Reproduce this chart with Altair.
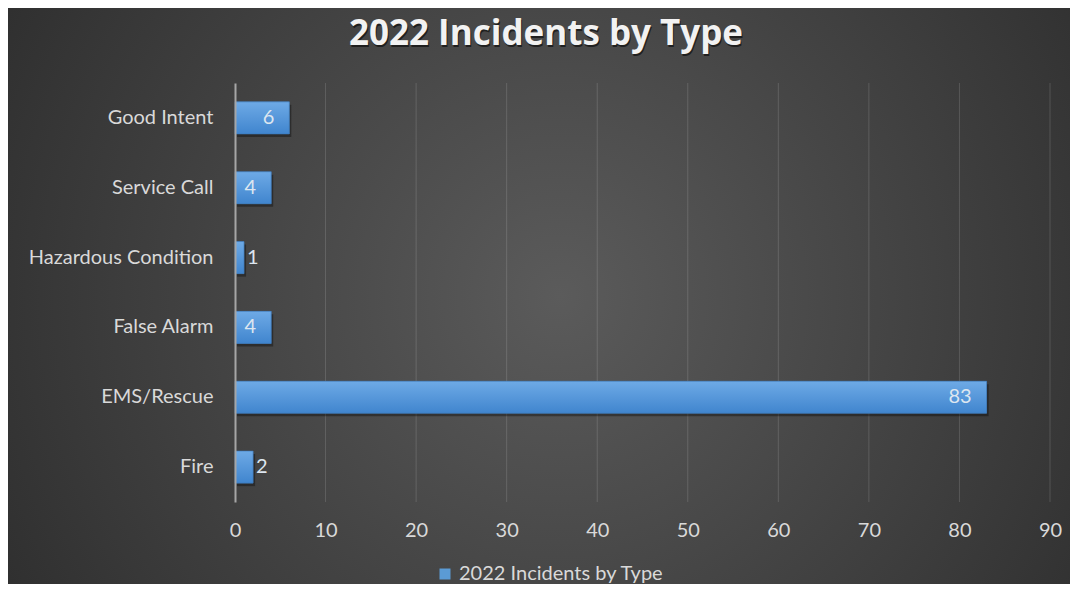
import altair as alt
import pandas as pd

categories = ["Good Intent", "Service Call", "Hazardous Condition", "False Alarm", "EMS/Rescue", "Fire"]
values = [6, 4, 1, 4, 83, 2]
series_name = "2022 Incidents by Type"
x_ticks = [0, 10, 20, 30, 40, 50, 60, 70, 80, 90]
title_text = "2022 Incidents by Type"

df = pd.DataFrame({"type": categories, "count": values, "series": [series_name] * len(categories)})
ticks_df = pd.DataFrame({"t": x_ticks[1:]})
one = pd.DataFrame({"a": [0]})

W, H = 815, 419
PL, PT = 227, 75
TOTAL_W, TOTAL_H = 1062, 576
PR, PB = TOTAL_W - PL - W, TOTAL_H - PT - H
FONT = "Lato"
FS = 20
LABEL_COLOR = "#d9d9d9"

xscale = alt.Scale(domain=[0, 90], nice=False)
yscale = alt.Scale(domain=categories, paddingInner=0.54, paddingOuter=0.27)

bg_grad = {
    "gradient": "radial",
    "x1": 0.52, "y1": 0.5, "r1": 0,
    "x2": 0.52, "y2": 0.5, "r2": 0.72,
    "stops": [{"offset": 0, "color": "#5b5b5b"}, {"offset": 1, "color": "#262626"}],
}
bar_grad = {
    "gradient": "linear",
    "x1": 0, "y1": 0, "x2": 0, "y2": 1,
    "stops": [{"offset": 0, "color": "#6eaae6"}, {"offset": 1, "color": "#4085ce"}],
}

bg = alt.Chart(one).mark_rect(fill=bg_grad, strokeWidth=0).encode(
    x=alt.value(-PL), x2=alt.value(W + PR), y=alt.value(-PT), y2=alt.value(H + PB)
)

grid = alt.Chart(ticks_df).mark_rule(color="#ffffff", opacity=0.14, strokeWidth=1).encode(
    x=alt.X("t:Q", scale=xscale)
)

x_enc = alt.X(
    "count:Q", scale=xscale,
    axis=alt.Axis(values=x_ticks, title=None, domain=False, ticks=False, grid=False,
                  labelFontSize=FS, labelColor=LABEL_COLOR, labelFont=FONT, labelPadding=18,
                  labelFlush=False, labelOverlap=False, zindex=1),
)
y_enc = alt.Y(
    "type:N", scale=yscale, sort=categories,
    axis=alt.Axis(title=None, ticks=False, grid=False, domain=True, domainColor="#a6a6a6",
                  domainWidth=2, labelFontSize=FS, labelColor=LABEL_COLOR, labelFont=FONT,
                  labelPadding=22, labelLimit=0, zindex=1),
)

shadow = alt.Chart(df).mark_bar(color="#000000", opacity=0.35, xOffset=2, yOffset=3).encode(
    x=x_enc, y=y_enc
)

legend_bars = alt.Chart(df).mark_bar().encode(
    x=x_enc, y=y_enc,
    color=alt.Color(
        "series:N", scale=alt.Scale(range=["#5b9bd5"]),
        legend=alt.Legend(orient="none", legendX=200, legendY=481, title=None,
                          symbolType="square", symbolSize=121, symbolStrokeWidth=0,
                          labelFontSize=FS, labelColor=LABEL_COLOR, labelFont=FONT,
                          labelOffset=4, labelLimit=0),
    ),
)

bars = alt.Chart(df).mark_bar(fill=bar_grad, stroke="#3a76b6", strokeWidth=0.6).encode(
    x=x_enc, y=y_enc
)

labels_in = alt.Chart(df).transform_filter("datum.count >= 4").mark_text(
    align="right", baseline="middle", dx=-15, fontSize=FS, font=FONT, color="#dde6f0"
).encode(x=x_enc, y=y_enc, text="count:Q")

labels_out = alt.Chart(df).transform_filter("datum.count < 4").mark_text(
    align="left", baseline="middle", dx=3, fontSize=FS, font=FONT, color="#dde6f0"
).encode(x=x_enc, y=y_enc, text="count:Q")

title_shadow = alt.Chart(one).mark_text(
    text=title_text, align="center", baseline="alphabetic", fontSize=35, fontWeight="bold",
    font="Open Sans", color="#000000", opacity=0.55, dx=1, dy=2
).encode(x=alt.value(311), y=alt.value(-38))

title = alt.Chart(one).mark_text(
    text=title_text, align="center", baseline="alphabetic", fontSize=35, fontWeight="bold",
    font="Open Sans", color="#f2f2f2"
).encode(x=alt.value(311), y=alt.value(-38))

chart = alt.layer(
    bg, grid, shadow, legend_bars, bars, labels_in, labels_out, title_shadow, title
).properties(
    width=W, height=H,
    autosize=alt.AutoSizeParams(type="none"),
    padding={"left": PL, "top": PT, "right": PR, "bottom": PB},
).configure_view(stroke=None).configure(background="#ffffff")

chart.save("out.html", embed_options={"renderer": "svg", "actions": False})
